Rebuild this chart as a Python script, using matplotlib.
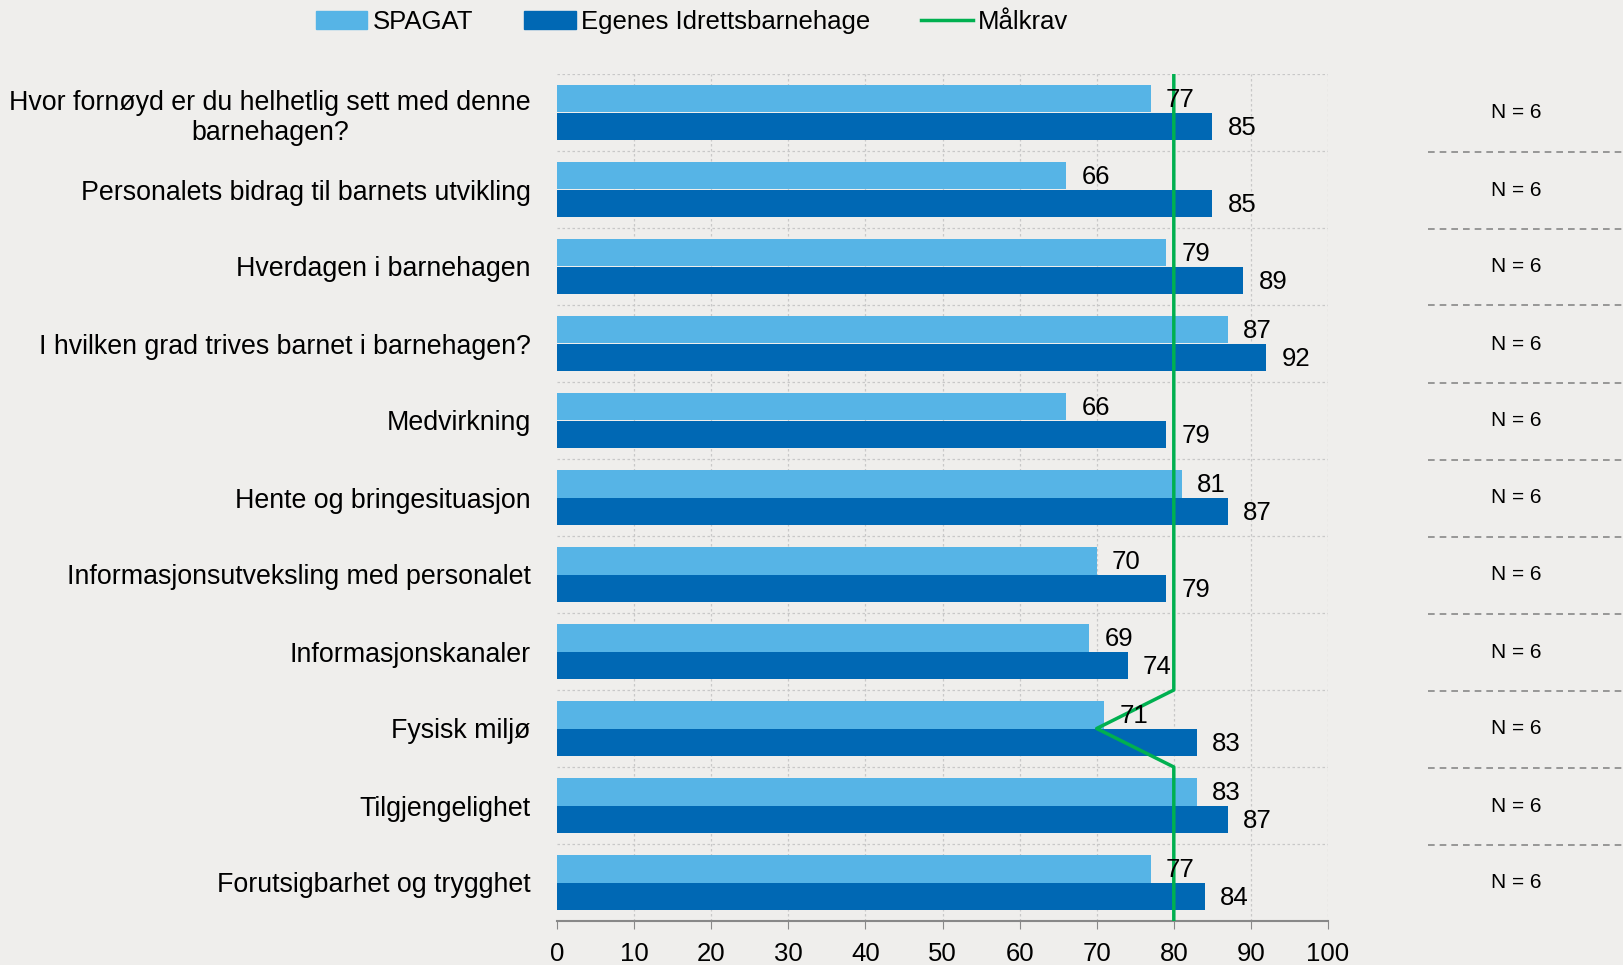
import numpy as np
import matplotlib.pyplot as plt
from matplotlib.patches import Patch
from matplotlib.lines import Line2D

plt.rcParams['font.family'] = ['Liberation Sans', 'DejaVu Sans']

categories = ['Hvor fornøyd er du helhetlig sett med denne\nbarnehagen?',
              'Personalets bidrag til barnets utvikling',
              'Hverdagen i barnehagen',
              'I hvilken grad trives barnet i barnehagen?',
              'Medvirkning',
              'Hente og bringesituasjon',
              'Informasjonsutveksling med personalet',
              'Informasjonskanaler',
              'Fysisk miljø',
              'Tilgjengelighet',
              'Forutsigbarhet og trygghet']
spagat = [77, 66, 79, 87, 66, 81, 70, 69, 71, 83, 77]
egenes = [85, 85, 89, 92, 79, 87, 79, 74, 83, 87, 84]
maalkrav = [80, 80, 80, 80, 80, 80, 80, 80, 70, 80, 80]
n_labels = ['N = 6'] * 11

bg = '#EFEEEC'
light = '#56B4E6'
dark = '#0068B4'
green = '#00B050'

fig = plt.figure(figsize=(16.23, 9.65), dpi=100, facecolor=bg)
ax = fig.add_axes([557/1623, 1 - 921/965, 771/1623, 847/965])
ax.set_facecolor(bg)

n = len(categories)
y = np.arange(n)
h = 0.36

ax.barh(y - h/2, spagat, height=h, color=light, zorder=2)
ax.barh(y + h/2, egenes, height=h, color=dark, zorder=2)

for i in range(n):
    ax.text(spagat[i] + 2, y[i] - h/2 + 0.02, str(spagat[i]), va='center', ha='left', fontsize=18.5, zorder=4)
    ax.text(egenes[i] + 2, y[i] + h/2 + 0.02, str(egenes[i]), va='center', ha='left', fontsize=18.5, zorder=4)

# target line: vertical at category centers, bending at boundaries
ly, lx = [-0.5], [maalkrav[0]]
for i in range(n):
    ly.append(y[i]); lx.append(maalkrav[i])
    if i < n - 1:
        ly.append(y[i] + 0.5); lx.append(max(maalkrav[i], maalkrav[i + 1]))
ly.append(n - 0.5); lx.append(maalkrav[-1])
ax.plot(lx, ly, color=green, lw=2.5, zorder=3)

ax.set_ylim(n - 0.5, -0.5)
ax.set_xlim(0, 100)
ax.set_xticks(np.arange(0, 101, 10))
ax.set_yticks(y)
ax.set_yticklabels(categories, fontsize=19.3, multialignment='center')
ax.tick_params(axis='y', length=0, pad=19)
ax.tick_params(axis='x', labelsize=18.5, length=6, color='#888888', direction='out', pad=9)

for sp in ['left', 'right', 'top']:
    ax.spines[sp].set_visible(False)
ax.spines['bottom'].set_color('#888888')
ax.spines['bottom'].set_linewidth(1.5)

for xv in np.arange(10, 101, 10):
    ax.axvline(xv, color='#C8C8C8', lw=0.9, ls=(0, (2, 2)), zorder=1)
for b in np.arange(-0.5, n - 0.5, 1):
    ax.axhline(b, color='#C8C8C8', lw=0.9, ls=(0, (2, 2)), zorder=1)

# N column
for i in range(n):
    yc = 1 - (74.5 + (i + 0.5) * 77) / 965
    fig.text(1516/1623, yc, n_labels[i], ha='center', va='center', fontsize=15)
    if i < n - 1:
        yb = 1 - (74.5 + (i + 1) * 77) / 965
        fig.add_artist(Line2D([1428/1623, 1], [yb, yb], color='#888888', lw=1.2, ls=(0, (4, 3))))

handles = [Patch(color=light), Patch(color=dark), Line2D([0], [0], color=green, lw=2.5)]
fig.legend(handles, ['SPAGAT', 'Egenes Idrettsbarnehage', 'Målkrav'], loc='upper center',
           bbox_to_anchor=(692/1623, 1.014), ncol=3, frameon=False, fontsize=18.5,
           handlelength=2.0, handletextpad=0.2, columnspacing=2.0)

fig.savefig('out.png', dpi=100, facecolor=bg)
